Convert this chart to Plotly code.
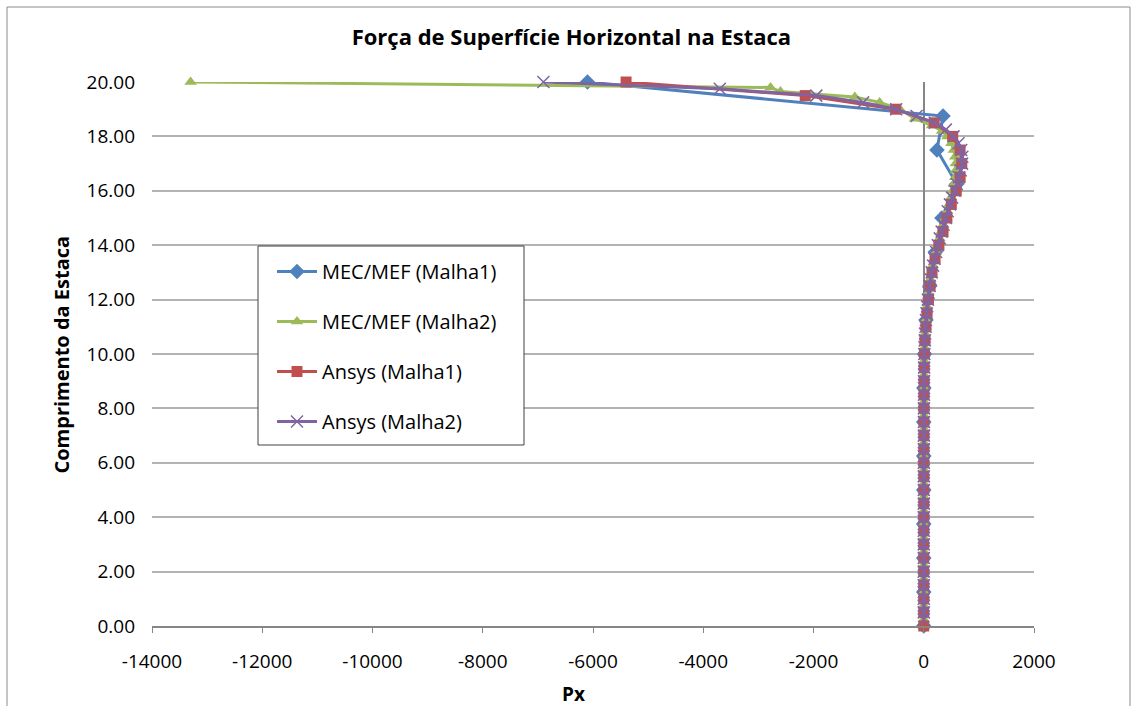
import plotly.graph_objects as go

# ---------------- data ----------------
# MEC/MEF (Malha1)
mef1_y = [20.0, 18.75, 17.5, 16.25, 15.0, 13.75, 12.5, 11.25, 10.0, 8.75, 7.5, 6.25, 5.0, 3.75, 2.5, 1.25, 0.0]
mef1_x = [-6100, 350, 240, 600, 330, 210, 110, 40, 12, 2, 0, 0, 0, 0, 0, 0, 0]

# MEC/MEF (Malha2)
mef2_y = [20.0, 19.8, 19.65, 19.45, 19.25, 19.0, 18.65, 18.4, 18.2, 18.0,
          17.75, 17.5, 17.25, 17.0, 16.75, 16.5, 16.25, 16.0, 15.75, 15.5,
          15.25, 15.0, 14.75, 14.5, 14.25, 14.0, 13.75, 13.5, 13.25, 13.0,
          12.75, 12.5, 12.25, 12.0, 11.75, 11.5, 11.25, 11.0, 10.75, 10.5,
          10.25, 10.0, 9.75, 9.5, 9.25, 9.0, 8.75, 8.5, 8.25, 8.0,
          7.75, 7.5, 7.25, 7.0, 6.75, 6.5, 6.25, 6.0, 5.75, 5.5,
          5.25, 5.0, 4.75, 4.5, 4.25, 4.0, 3.75, 3.5, 3.25, 3.0,
          2.75, 2.5, 2.25, 2.0, 1.75, 1.5, 1.25, 1.0, 0.75, 0.5,
          0.25, 0.0]
mef2_x = [-13300, -2780, -2600, -1250, -800, -430, -160, 150, 330, 430,
          500, 545, 570, 580, 580, 570, 550, 525, 495, 460,
          425, 390, 355, 320, 285, 250, 220, 190, 165, 140,
          120, 100, 85, 70, 58, 47, 38, 30, 23, 17,
          13, 9, 8, 7, 6, 5, 5, 4, 4, 3,
          3, 3, 2, 2, 2, 2, 1, 1, 1, 1,
          1, 1, 1, 1, 0, 0, 0, 0, 0, 0,
          0, 0, 0, 0, 0, 0, 0, 0, 0, 0,
          0, 0]

# Ansys (Malha1)
ans1_y = [20.0, 19.5, 19.0, 18.5, 18.0, 17.5, 17.0, 16.5, 16.0, 15.5,
          15.0, 14.5, 14.0, 13.5, 13.0, 12.5, 12.0, 11.5, 11.0, 10.5,
          10.0, 9.5, 9.0, 8.5, 8.0, 7.5, 7.0, 6.5, 6.0, 5.5,
          5.0, 4.5, 4.0, 3.5, 3.0, 2.5, 2.0, 1.5, 1.0, 0.5, 0.0]
ans1_x = [-5400, -2150, -510, 190, 525, 660, 690, 660, 590, 500,
          420, 350, 275, 205, 150, 115, 85, 60, 40, 22,
          12, 8, 6, 5, 4, 3, 3, 2, 2, 2,
          1, 1, 1, 1, 0, 0, 0, 0, 0, 0, 0]

# Ansys (Malha2)
ans2_y = [20.0, 19.75, 19.5, 19.25, 19.0, 18.75, 18.5, 18.25, 18.0,
          17.75, 17.5, 17.25, 17.0, 16.75, 16.5, 16.25, 16.0, 15.75, 15.5,
          15.25, 15.0, 14.75, 14.5, 14.25, 14.0, 13.75, 13.5, 13.25, 13.0,
          12.75, 12.5, 12.25, 12.0, 11.75, 11.5, 11.25, 11.0, 10.75, 10.5,
          10.25, 10.0, 9.75, 9.5, 9.25, 9.0, 8.75, 8.5, 8.25, 8.0,
          7.75, 7.5, 7.25, 7.0, 6.75, 6.5, 6.25, 6.0, 5.75, 5.5,
          5.25, 5.0, 4.75, 4.5, 4.25, 4.0, 3.75, 3.5, 3.25, 3.0,
          2.75, 2.5, 2.25, 2.0, 1.75, 1.5, 1.25, 1.0, 0.75, 0.5,
          0.25, 0.0]
ans2_x = [-6900, -3700, -1950, -1100, -500, -130, 200, 400, 540,
          630, 680, 700, 695, 670, 640, 600, 560, 515, 475,
          435, 400, 360, 325, 290, 255, 225, 195, 170, 145,
          125, 105, 90, 75, 62, 50, 40, 32, 25, 19,
          14, 10, 8, 7, 6, 5, 5, 4, 4, 3,
          3, 3, 2, 2, 2, 2, 1, 1, 1, 1,
          1, 1, 1, 1, 0, 0, 0, 0, 0, 0,
          0, 0, 0, 0, 0, 0, 0, 0, 0, 0,
          0]

series_names = ["MEC/MEF (Malha1)", "MEC/MEF (Malha2)", "Ansys (Malha1)", "Ansys (Malha2)"]

x_tickvals = [-14000, -12000, -10000, -8000, -6000, -4000, -2000, 0, 2000]
x_ticktext = ["-14000", "-12000", "-10000", "-8000", "-6000", "-4000", "-2000", "0", "2000"]
y_tickvals = [0, 2, 4, 6, 8, 10, 12, 14, 16, 18, 20]
y_ticktext = ["0.00", "2.00", "4.00", "6.00", "8.00", "10.00", "12.00", "14.00", "16.00", "18.00", "20.00"]

title_text = "Força de Superfície Horizontal na Estaca"
x_title = "Px"
y_title = "Comprimento da Estaca"

# ---------------- figure ----------------
FONT = "'Open Sans', Lato, 'DejaVu Sans', sans-serif"
fig = go.Figure()

styles = [
    dict(color="#4F81BD", symbol="diamond", size=12),
    dict(color="#9BBB59", symbol="triangle-up", size=11),
    dict(color="#C0504D", symbol="square", size=11),
    dict(color="#8064A2", symbol="x-thin", size=12),
]
datas = [(mef1_x, mef1_y), (mef2_x, mef2_y), (ans1_x, ans1_y), (ans2_x, ans2_y)]

for i, ((xs, ys), st, nm) in enumerate(zip(datas, styles, series_names)):
    marker = dict(symbol=st["symbol"], size=st["size"], color=st["color"])
    if st["symbol"] == "x-thin":
        marker["line"] = dict(color=st["color"], width=1.5)
    fig.add_trace(go.Scatter(
        x=xs, y=ys, mode="lines+markers", name=nm,
        line=dict(color=st["color"], width=3),
        marker=marker, cliponaxis=False, legendgroup=f"g{i}",
    ))

# pixel helpers for paper coordinates (plot area: x 152..1034, y 82..626)
def px_x(p):
    return (p - 152) / 882

def px_y(p):
    return (626 - p) / 544

fig.update_layout(
    width=1136, height=706,
    margin=dict(l=152, r=102, t=82, b=80),
    paper_bgcolor="white", plot_bgcolor="white",
    font=dict(family=FONT, size=19, color="black"),
    title=dict(text=f"<b>{title_text}</b>", x=0.503, xref="container", xanchor="center",
               y=1 - 37 / 706, yref="container", yanchor="middle",
               font=dict(family=FONT, size=22, color="black")),
    showlegend=True,
    legend=dict(x=px_x(272), y=px_y(252), xanchor="left", yanchor="top",
                bgcolor="rgba(0,0,0,0)", borderwidth=0,
                font=dict(family=FONT, size=20, color="black"),
                tracegroupgap=21, itemwidth=40),
    xaxis=dict(range=[-14000, 2000], tickmode="array", tickvals=x_tickvals, ticktext=x_ticktext,
               showgrid=False, zeroline=True, zerolinecolor="#868686", zerolinewidth=2,
               showline=True, linecolor="#868686", linewidth=2,
               ticks="outside", ticklen=5, tickcolor="#868686", tickwidth=1,
               ticklabelstandoff=12, tickfont=dict(size=19)),
    yaxis=dict(range=[0, 20], tickmode="array", tickvals=y_tickvals, ticktext=y_ticktext,
               showgrid=True, gridcolor="#b3b3b3", gridwidth=1.5, zeroline=False,
               showline=False, ticks="", ticklabelstandoff=16, tickfont=dict(size=19)),
    annotations=[
        dict(text=f"<b>{y_title}</b>", xref="paper", yref="paper", x=px_x(62), y=0.499,
             textangle=-90, showarrow=False, xanchor="center", yanchor="middle",
             font=dict(family=FONT, size=20, color="black")),
        dict(text=f"<b>{x_title}</b>", xref="paper", yref="paper", x=px_x(573), y=px_y(694),
             showarrow=False, xanchor="center", yanchor="middle",
             font=dict(family=FONT, size=19, color="black")),
    ],
    shapes=[
        # outer chart border
        dict(type="rect", xref="paper", yref="paper",
             x0=px_x(7), x1=px_x(1130), y0=-0.3, y1=px_y(7),
             line=dict(color="#8c8c8c", width=1), fillcolor="rgba(0,0,0,0)", layer="below"),
        # legend box
        dict(type="rect", xref="paper", yref="paper",
             x0=px_x(258), x1=px_x(524), y0=px_y(445), y1=px_y(246),
             line=dict(color="#404040", width=1), fillcolor="white", layer="above"),
    ],
)

fig.write_html("out.html",
               config={"displayModeBar": False},
               post_script="document.body.style.margin='0';document.body.style.padding='0';"
                           "document.documentElement.style.overflow='hidden';")
